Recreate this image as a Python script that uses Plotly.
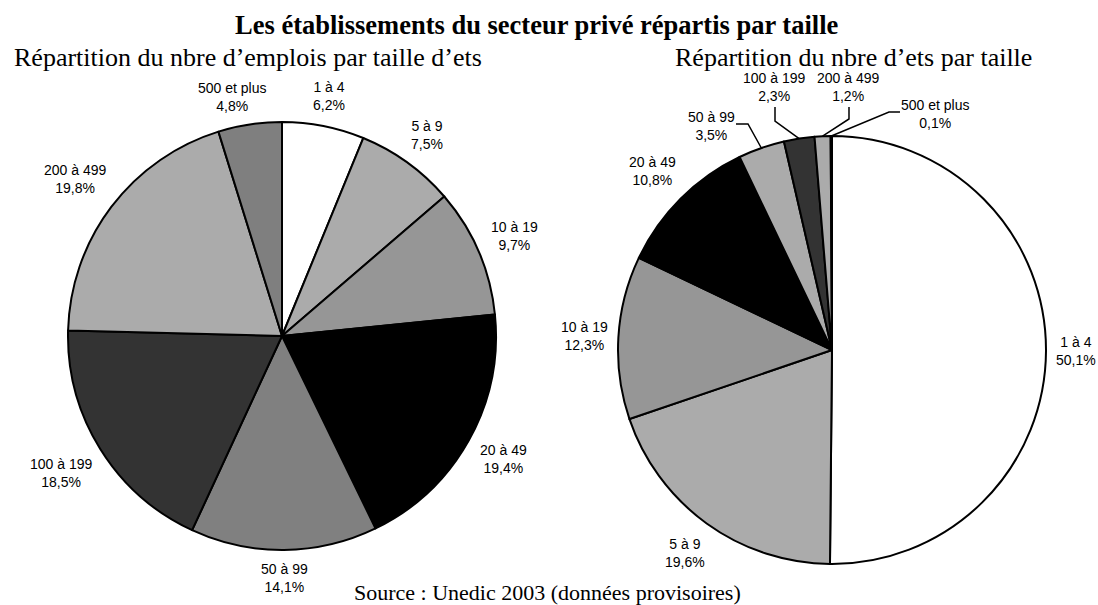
import math
import plotly.graph_objects as go

W, H = 1098, 605

# ---------------- data ----------------
categories = ["1 à 4", "5 à 9", "10 à 19", "20 à 49", "50 à 99",
              "100 à 199", "200 à 499", "500 et plus"]
emplois_pct = [6.2, 7.5, 9.7, 19.4, 14.1, 18.5, 19.8, 4.8]
etabs_pct = [50.1, 19.6, 12.3, 10.8, 3.5, 2.3, 1.2, 0.1]

title_text = "Les établissements du secteur privé répartis par taille"
subtitle_left = "Répartition du nbre d’emplois par taille d’ets"
subtitle_right = "Répartition du nbre d’ets par taille"
source_text = "Source : Unedic 2003 (données provisoires)"

# ---------------- styles ----------------
colors_left = ["#FFFFFF", "#ABABAB", "#969696", "#000000",
               "#808080", "#333333", "#ABABAB", "#7F7F7F"]
colors_right = ["#FFFFFF", "#ABABAB", "#969696", "#000000",
                "#ABABAB", "#333333", "#ABABAB", "#000000"]

LEFT = dict(cx=282, cy=336, r=214)
RIGHT = dict(cx=832, cy=350, r=214)

LABEL_FONT = dict(family="Liberation Sans, Arial", size=14, color="#000000")
SERIF = "Liberation Serif, Times New Roman, serif"

# small nudges (pixels) of automatically placed labels
LEFT_NUDGE = {"500 et plus": (-12, 5)}

# manual label placement (pixels) for the crowded small slices of right pie
# category -> (label centre, leader-line points before the slice edge)
RIGHT_MANUAL = {
    "50 à 99": ((711, 126), [(736, 124), (748, 124)]),
    "100 à 199": ((774, 87), [(775, 107), (775, 121)]),
    "200 à 499": ((848, 87), [(849, 107), (849, 119)]),
    "500 et plus": ((936, 114), [(900, 112), (889, 112)]),
}

CHAR_W = {"0": .556, "1": .556, "2": .556, "3": .556, "4": .556, "5": .556,
          "6": .556, "7": .556, "8": .556, "9": .556, " ": .278, "à": .556,
          ",": .278, "%": .889, "e": .556, "t": .278, "p": .556, "l": .222,
          "u": .556, "s": .5}


def px(x, y):
    return x / W, 1 - y / H


def fmt(v):
    return f"{v:.1f}%".replace(".", ",")


def text_width(s, size=14):
    return sum(CHAR_W.get(c, .556) for c in s) * size


def domain(p):
    x0, y0 = px(p["cx"] - p["r"], p["cy"] + p["r"])
    x1, y1 = px(p["cx"] + p["r"], p["cy"] - p["r"])
    return dict(x=[x0, x1], y=[y0, y1])


def mid_angles(values):
    tot = sum(values)
    out, cum = [], 0.0
    for v in values:
        out.append((cum + v / 2) / tot * 360.0)
        cum += v
    return out


fig = go.Figure()
for vals, cols, p in ((emplois_pct, colors_left, LEFT),
                      (etabs_pct, colors_right, RIGHT)):
    fig.add_trace(go.Pie(
        labels=categories, values=vals, sort=False, direction="clockwise",
        rotation=0, marker=dict(colors=cols, line=dict(color="#000000", width=2)),
        textinfo="none", hoverinfo="none", showlegend=False,
        domain=domain(p),
    ))

annotations = []
shapes = []


def add_labels(values, p, manual, nudge):
    for cat, v, ang in zip(categories, values, mid_angles(values)):
        t = math.radians(ang)
        s, c = math.sin(t), math.cos(t)
        label = f"{cat}<br>{fmt(v)}"
        if cat in manual:
            (lx, ly), pts = manual[cat]
            ex = p["cx"] + p["r"] * s
            ey = p["cy"] - p["r"] * c
            path_pts = pts + [(ex, ey)]
            path = "M " + " L ".join(
                f"{px(x, y)[0]:.5f},{px(x, y)[1]:.5f}" for x, y in path_pts)
            shapes.append(dict(type="path", xref="paper", yref="paper",
                               path=path, line=dict(color="#000000", width=1.5)))
        else:
            hw = max(text_width(cat), text_width(fmt(v))) / 2
            hh = 18
            R = p["r"] + 10 + abs(s) * hw + abs(c) * hh
            dx, dy = nudge.get(cat, (0, 0))
            lx = p["cx"] + R * s + dx
            ly = p["cy"] - R * c + dy
        ax_, ay_ = px(lx, ly)
        annotations.append(dict(
            x=ax_, y=ay_, xref="paper", yref="paper", text=label,
            showarrow=False, xanchor="center", yanchor="middle",
            font=LABEL_FONT, align="center"))


add_labels(emplois_pct, LEFT, {}, LEFT_NUDGE)
add_labels(etabs_pct, RIGHT, RIGHT_MANUAL, {})

# titles
tx, ty = px(537, 25)
annotations.append(dict(x=tx, y=ty, xref="paper", yref="paper",
                        text=f"<b>{title_text}</b>", showarrow=False,
                        xanchor="center", yanchor="middle",
                        font=dict(family=SERIF, size=26.5, color="#000000")))
sx, sy = px(12, 57)
annotations.append(dict(x=sx, y=sy, xref="paper", yref="paper",
                        text=subtitle_left, showarrow=False,
                        xanchor="left", yanchor="middle",
                        font=dict(family=SERIF, size=26, color="#000000")))
sx, sy = px(1034, 58)
annotations.append(dict(x=sx, y=sy, xref="paper", yref="paper",
                        text=subtitle_right, showarrow=False,
                        xanchor="right", yanchor="middle",
                        font=dict(family=SERIF, size=26, color="#000000")))
sx, sy = px(547, 592)
annotations.append(dict(x=sx, y=sy, xref="paper", yref="paper",
                        text=source_text, showarrow=False,
                        xanchor="center", yanchor="middle",
                        font=dict(family=SERIF, size=22, color="#000000")))

fig.update_layout(
    width=W, height=H, autosize=False,
    margin=dict(l=0, r=0, t=0, b=0),
    paper_bgcolor="#FFFFFF", plot_bgcolor="#FFFFFF",
    annotations=annotations, shapes=shapes,
)

fig.write_html("out.html",
               config={"displayModeBar": False, "staticPlot": True},
               post_script="document.body.style.margin='0';"
                           "document.body.style.overflow='hidden';")
